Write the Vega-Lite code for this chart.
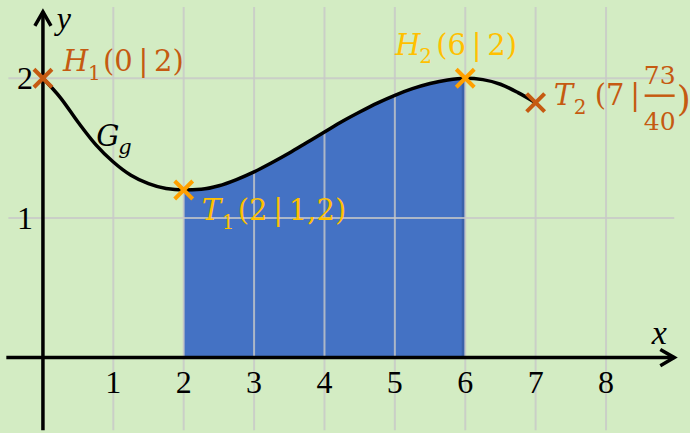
{
  "$schema": "https://vega.github.io/schema/vega-lite/v6.json",
  "width": 690,
  "height": 433,
  "autosize": {"type": "fit", "contains": "padding"},
  "padding": 0,
  "background": "#d3ecc3",
  "config": {"view": {"stroke": null}},
  "datasets": {
    "curve": [
      {"x": 0, "y": 2}, {"x": 0.25, "y": 1.86}, {"x": 0.5, "y": 1.685}, {"x": 0.75, "y": 1.525},
      {"x": 1, "y": 1.4}, {"x": 1.25, "y": 1.305}, {"x": 1.5, "y": 1.245}, {"x": 1.75, "y": 1.21},
      {"x": 2, "y": 1.2}, {"x": 2.25, "y": 1.205}, {"x": 2.5, "y": 1.23}, {"x": 2.75, "y": 1.275},
      {"x": 3, "y": 1.33}, {"x": 3.25, "y": 1.395}, {"x": 3.5, "y": 1.465}, {"x": 3.75, "y": 1.54},
      {"x": 4, "y": 1.615}, {"x": 4.25, "y": 1.69}, {"x": 4.5, "y": 1.758}, {"x": 4.75, "y": 1.822},
      {"x": 5, "y": 1.878}, {"x": 5.25, "y": 1.925}, {"x": 5.5, "y": 1.962}, {"x": 5.75, "y": 1.988},
      {"x": 6, "y": 2}, {"x": 6.25, "y": 1.99}, {"x": 6.5, "y": 1.957}, {"x": 6.75, "y": 1.897},
      {"x": 7, "y": 1.825}
    ],
    "gridX": [{"x": 1}, {"x": 2}, {"x": 3}, {"x": 4}, {"x": 5}, {"x": 6}, {"x": 7}, {"x": 8}],
    "gridY": [{"y": 1}, {"y": 2}],
    "points": [
      {"id": "H1", "x": 0, "y": 2, "tone": "dark"},
      {"id": "T1", "x": 2, "y": 1.2, "tone": "light"},
      {"id": "H2", "x": 6, "y": 2, "tone": "light"},
      {"id": "T2", "x": 7, "y": 1.825, "tone": "dark"}
    ],
    "tips": [{"axis": "x", "x": 8.97, "y": 0}, {"axis": "y", "x": 0, "y": 2.475}],
    "ticksX": [
      {"x": 1, "y": 0, "label": "1"}, {"x": 2, "y": 0, "label": "2"}, {"x": 3, "y": 0, "label": "3"},
      {"x": 4, "y": 0, "label": "4"}, {"x": 5, "y": 0, "label": "5"}, {"x": 6, "y": 0, "label": "6"},
      {"x": 7, "y": 0, "label": "7"}, {"x": 8, "y": 0, "label": "8"}
    ],
    "ticksY": [{"x": 0, "y": 1, "label": "1"}, {"x": 0, "y": 2, "label": "2"}]
  },
  "layer": [
    {
      "data": {"name": "curve"},
      "transform": [{"filter": "datum.x >= 2 && datum.x <= 6"}],
      "mark": {"type": "area", "color": "#4472c4", "interpolate": "monotone"},
      "encoding": {
        "x": {"field": "x", "type": "quantitative", "scale": {"domain": [-0.61, 9.108], "nice": false, "zero": false}, "axis": null},
        "y": {"field": "y", "type": "quantitative", "scale": {"domain": [-0.511, 2.56], "nice": false, "zero": false}, "axis": null},
        "y2": {"datum": 0}
      }
    },
    {
      "data": {"name": "points"},
      "transform": [{"filter": "datum.id == 'H2'"}],
      "mark": {"type": "rule", "color": "#2f528f", "opacity": 0.5, "strokeWidth": 3, "xOffset": -2},
      "encoding": {
        "x": {"field": "x", "type": "quantitative", "scale": {"domain": [-0.61, 9.108], "nice": false, "zero": false}, "axis": null},
        "y": {"field": "y", "type": "quantitative", "scale": {"domain": [-0.511, 2.56], "nice": false, "zero": false}, "axis": null},
        "y2": {"datum": 0}
      }
    },
    {
      "data": {"name": "gridX"},
      "mark": {"type": "rule", "color": "#c8c8c8", "opacity": 0.8, "strokeWidth": 2},
      "encoding": {
        "x": {"field": "x", "type": "quantitative", "scale": {"domain": [-0.61, 9.108], "nice": false, "zero": false}, "axis": null},
        "y": {"datum": -0.52, "type": "quantitative", "scale": {"domain": [-0.511, 2.56], "nice": false, "zero": false}, "axis": null},
        "y2": {"datum": 2.51}
      }
    },
    {
      "data": {"name": "gridY"},
      "mark": {"type": "rule", "color": "#c8c8c8", "opacity": 0.8, "strokeWidth": 2},
      "encoding": {
        "y": {"field": "y", "type": "quantitative", "scale": {"domain": [-0.511, 2.56], "nice": false, "zero": false}, "axis": null},
        "x": {"datum": -0.49, "type": "quantitative", "scale": {"domain": [-0.61, 9.108], "nice": false, "zero": false}, "axis": null},
        "x2": {"datum": 8.97}
      }
    },
    {
      "encoding": {
        "x": {"field": "x", "type": "quantitative", "scale": {"domain": [-0.61, 9.108], "nice": false, "zero": false}, "axis": null},
        "y": {"field": "y", "type": "quantitative", "scale": {"domain": [-0.511, 2.56], "nice": false, "zero": false}, "axis": null}
      },
      "layer": [
        {
          "data": {"name": "curve"},
          "mark": {"type": "line", "color": "#000000", "strokeWidth": 3.5, "interpolate": "monotone"},
          "encoding": {}
        },
        {
          "data": {"name": "tips"},
          "transform": [{"filter": "datum.axis == 'x'"}],
          "mark": {"type": "rule", "color": "#000000", "strokeWidth": 3.5},
          "encoding": {"x": {"datum": -0.52, "type": "quantitative"}, "x2": {"field": "x"}}
        },
        {
          "data": {"name": "tips"},
          "transform": [{"filter": "datum.axis == 'y'"}],
          "mark": {"type": "rule", "color": "#000000", "strokeWidth": 3.5},
          "encoding": {"y": {"datum": -0.52, "type": "quantitative"}, "y2": {"field": "y"}}
        },
        {
          "data": {"name": "tips"},
          "transform": [{"filter": "datum.axis == 'x'"}],
          "mark": {"type": "point", "shape": "M-2,-1.15L0,0L-2,1.15", "filled": false, "stroke": "#000000", "strokeWidth": 3.5, "size": 196, "opacity": 1},
          "encoding": {}
        },
        {
          "data": {"name": "tips"},
          "transform": [{"filter": "datum.axis == 'y'"}],
          "mark": {"type": "point", "shape": "M-2,-1.15L0,0L-2,1.15", "angle": -90, "filled": false, "stroke": "#000000", "strokeWidth": 3.5, "size": 196, "opacity": 1},
          "encoding": {}
        },
        {
          "data": {"name": "points"},
          "mark": {"type": "point", "shape": "M-1,-1L1,1M-1,1L1,-1", "filled": false, "strokeWidth": 4, "size": 324, "opacity": 1},
          "encoding": {
            "color": {"field": "tone", "type": "nominal", "scale": {"domain": ["dark", "light"], "range": ["#c55a11", "#ffa000"]}, "legend": null}
          }
        },
        {
          "data": {"name": "ticksX"},
          "mark": {"type": "text", "font": "Liberation Serif", "fontSize": 32, "align": "center", "baseline": "alphabetic", "dy": 35, "color": "#000000"},
          "encoding": {"text": {"field": "label"}}
        },
        {
          "data": {"name": "ticksY"},
          "mark": {"type": "text", "font": "Liberation Serif", "fontSize": 32, "align": "right", "baseline": "alphabetic", "dx": -10, "dy": 11, "color": "#000000"},
          "encoding": {"text": {"field": "label"}}
        },
        {
          "data": {"name": "tips"},
          "transform": [{"filter": "datum.axis == 'x'"}],
          "mark": {"type": "text", "font": "Liberation Serif", "fontStyle": "italic", "fontSize": 34, "align": "center", "baseline": "alphabetic", "dx": -15, "dy": -14, "color": "#000000"},
          "encoding": {"text": {"value": "x"}}
        },
        {
          "data": {"name": "tips"},
          "transform": [{"filter": "datum.axis == 'y'"}],
          "mark": {"type": "text", "font": "Liberation Serif", "fontStyle": "italic", "fontSize": 32, "align": "center", "baseline": "alphabetic", "dx": 21, "dy": 17, "color": "#000000"},
          "encoding": {"text": {"value": "y"}}
        },
        {
          "data": {"name": "curve"},
          "transform": [{"filter": "datum.x == 1"}],
          "mark": {"type": "text", "font": "DejaVu Serif", "fontStyle": "italic", "fontSize": 29, "align": "left", "baseline": "alphabetic", "dx": -17, "dy": -16, "color": "#000000"},
          "encoding": {"text": {"value": "G"}}
        },
        {
          "data": {"name": "curve"},
          "transform": [{"filter": "datum.x == 1"}],
          "mark": {"type": "text", "font": "DejaVu Serif", "fontStyle": "italic", "fontSize": 21, "align": "left", "baseline": "alphabetic", "dx": 5, "dy": -8, "color": "#000000"},
          "encoding": {"text": {"value": "g"}}
        },
        {
          "data": {"name": "points"},
          "transform": [{"filter": "datum.id == 'H1'"}],
          "layer": [
            {"mark": {"type": "text", "font": "DejaVu Serif", "fontStyle": "italic", "fontSize": 29, "align": "left", "baseline": "alphabetic", "dx": 20, "dy": -7, "color": "#c55a11"}, "encoding": {"text": {"value": "H"}}},
            {"mark": {"type": "text", "font": "DejaVu Serif", "fontSize": 20, "align": "left", "baseline": "alphabetic", "dx": 45, "dy": 2, "color": "#c55a11"}, "encoding": {"text": {"value": "1"}}},
            {"mark": {"type": "text", "font": "DejaVu Serif", "fontSize": 29, "align": "left", "baseline": "alphabetic", "dx": 60, "dy": -7, "color": "#c55a11"}, "encoding": {"text": {"value": "(0\u2009|\u20092)"}}}
          ]
        },
        {
          "data": {"name": "points"},
          "transform": [{"filter": "datum.id == 'T1'"}],
          "layer": [
            {"mark": {"type": "text", "font": "DejaVu Serif", "fontStyle": "italic", "fontSize": 29, "align": "left", "baseline": "alphabetic", "dx": 18, "dy": 30, "color": "#ffc000"}, "encoding": {"text": {"value": "T"}}},
            {"mark": {"type": "text", "font": "DejaVu Serif", "fontSize": 20, "align": "left", "baseline": "alphabetic", "dx": 38, "dy": 39, "color": "#ffc000"}, "encoding": {"text": {"value": "1"}}},
            {"mark": {"type": "text", "font": "DejaVu Serif", "fontSize": 29, "align": "left", "baseline": "alphabetic", "dx": 54, "dy": 30, "color": "#ffc000"}, "encoding": {"text": {"value": "(2\u2009|\u20091,2)"}}}
          ]
        },
        {
          "data": {"name": "points"},
          "transform": [{"filter": "datum.id == 'H2'"}],
          "layer": [
            {"mark": {"type": "text", "font": "DejaVu Serif", "fontStyle": "italic", "fontSize": 29, "align": "left", "baseline": "alphabetic", "dx": -70, "dy": -23, "color": "#ffc000"}, "encoding": {"text": {"value": "H"}}},
            {"mark": {"type": "text", "font": "DejaVu Serif", "fontSize": 20, "align": "left", "baseline": "alphabetic", "dx": -46, "dy": -15, "color": "#ffc000"}, "encoding": {"text": {"value": "2"}}},
            {"mark": {"type": "text", "font": "DejaVu Serif", "fontSize": 29, "align": "left", "baseline": "alphabetic", "dx": -29, "dy": -23, "color": "#ffc000"}, "encoding": {"text": {"value": "(6\u2009|\u20092)"}}}
          ]
        },
        {
          "data": {"name": "points"},
          "transform": [{"filter": "datum.id == 'T2'"}],
          "layer": [
            {"mark": {"type": "text", "font": "DejaVu Serif", "fontStyle": "italic", "fontSize": 29, "align": "left", "baseline": "alphabetic", "dx": 18, "dy": 2, "color": "#c55a11"}, "encoding": {"text": {"value": "T"}}},
            {"mark": {"type": "text", "font": "DejaVu Serif", "fontSize": 20, "align": "left", "baseline": "alphabetic", "dx": 38, "dy": 11, "color": "#c55a11"}, "encoding": {"text": {"value": "2"}}},
            {"mark": {"type": "text", "font": "DejaVu Serif", "fontSize": 29, "align": "left", "baseline": "alphabetic", "dx": 59, "dy": 2, "color": "#c55a11"}, "encoding": {"text": {"value": "(7\u2009|"}}},
            {"mark": {"type": "text", "font": "DejaVu Serif", "fontSize": 25, "align": "center", "baseline": "alphabetic", "dx": 124, "dy": -19, "color": "#c55a11"}, "encoding": {"text": {"value": "73"}}},
            {"mark": {"type": "rule", "color": "#c55a11", "strokeWidth": 2.5, "xOffset": 109, "x2Offset": 139, "yOffset": -7}, "encoding": {"x2": {"field": "x"}}},
            {"mark": {"type": "text", "font": "DejaVu Serif", "fontSize": 25, "align": "center", "baseline": "alphabetic", "dx": 124, "dy": 27, "color": "#c55a11"}, "encoding": {"text": {"value": "40"}}},
            {"mark": {"type": "text", "font": "DejaVu Serif", "fontSize": 36, "align": "left", "baseline": "alphabetic", "dx": 141, "dy": 8, "color": "#c55a11"}, "encoding": {"text": {"value": ")"}}}
          ]
        }
      ]
    }
  ]
}
